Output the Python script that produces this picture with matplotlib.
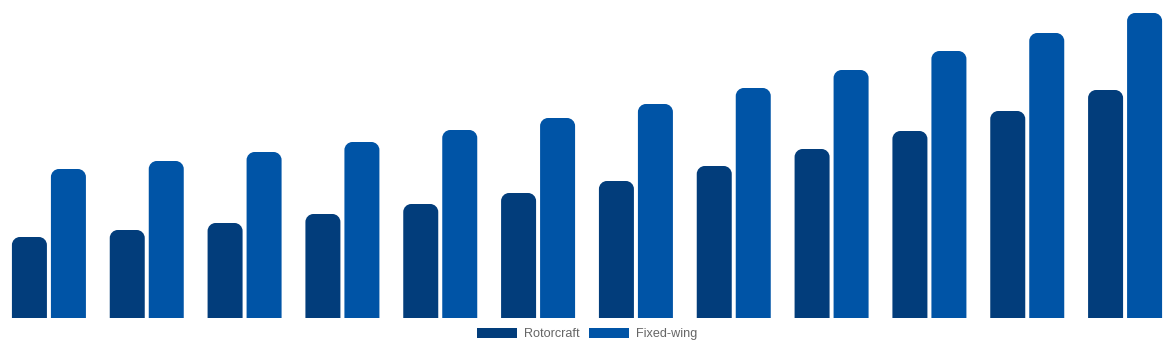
import matplotlib
matplotlib.use("Agg")
import matplotlib.pyplot as plt
from matplotlib.path import Path
from matplotlib.patches import PathPatch, Patch
import numpy as np

categories = [f"G{i+1}" for i in range(12)]
rotorcraft = [81, 88, 95, 104, 114, 125, 137, 152, 169, 187, 207, 228]
fixed_wing = [149, 157, 166, 176, 188, 200, 214, 230, 248, 267, 285, 305]
series_names = ["Rotorcraft", "Fixed-wing"]
colors = ["#023d7b", "#0054a6"]

W, H = 1174, 350
fig = plt.figure(figsize=(W / 100, H / 100), dpi=100)
base_px = 318
ax = fig.add_axes([0, (H - base_px) / H, 1, base_px / H])
ax.set_xlim(-0.5, len(categories) - 0.5)
ax.set_ylim(0, 318)
ax.axis("off")

cat_px = W / len(categories)
bw = 35 / cat_px
off = 19.5 / cat_px
x = np.arange(len(categories))

radius_px = 8
dx_per_px = (ax.get_xlim()[1] - ax.get_xlim()[0]) / W
dy_per_px = (ax.get_ylim()[1] - ax.get_ylim()[0]) / base_px


def rounded_top(x0, x1, y0, y1, rx, ry):
    k = 0.5523
    ry = min(ry, (y1 - y0))
    verts = [(x0, y0), (x0, y1 - ry),
             (x0, y1 - ry + k * ry), (x0 + rx - k * rx, y1), (x0 + rx, y1),
             (x1 - rx, y1),
             (x1 - rx + k * rx, y1), (x1, y1 - ry + k * ry), (x1, y1 - ry),
             (x1, y0), (x0, y0)]
    codes = [Path.MOVETO, Path.LINETO,
             Path.CURVE4, Path.CURVE4, Path.CURVE4,
             Path.LINETO,
             Path.CURVE4, Path.CURVE4, Path.CURVE4,
             Path.LINETO, Path.CLOSEPOLY]
    return Path(verts, codes)


for vals, shift, col in [(rotorcraft, -off, colors[0]), (fixed_wing, off, colors[1])]:
    bars = ax.bar(x + shift, vals, width=bw, color=col)
    for b in bars:
        b.set_visible(False)
        x0, y0 = b.get_x(), b.get_y()
        x1, y1 = x0 + b.get_width(), y0 + b.get_height()
        p = rounded_top(x0, x1, y0, y1, radius_px * dx_per_px, radius_px * dy_per_px)
        ax.add_patch(PathPatch(p, facecolor=col, edgecolor="none", antialiased=True))

handles = [Patch(facecolor=colors[0], edgecolor="none"), Patch(facecolor=colors[1], edgecolor="none")]
fig.legend(handles, series_names, loc="center", bbox_to_anchor=(0.5, (H - 334) / H),
           ncol=2, frameon=False, borderpad=0, handlelength=3.17, handleheight=0.87,
           handletextpad=0.5, columnspacing=0.8,
           prop={"family": "Liberation Sans", "size": 9.1}, labelcolor="#666666")

fig.savefig("out.png", dpi=100)
